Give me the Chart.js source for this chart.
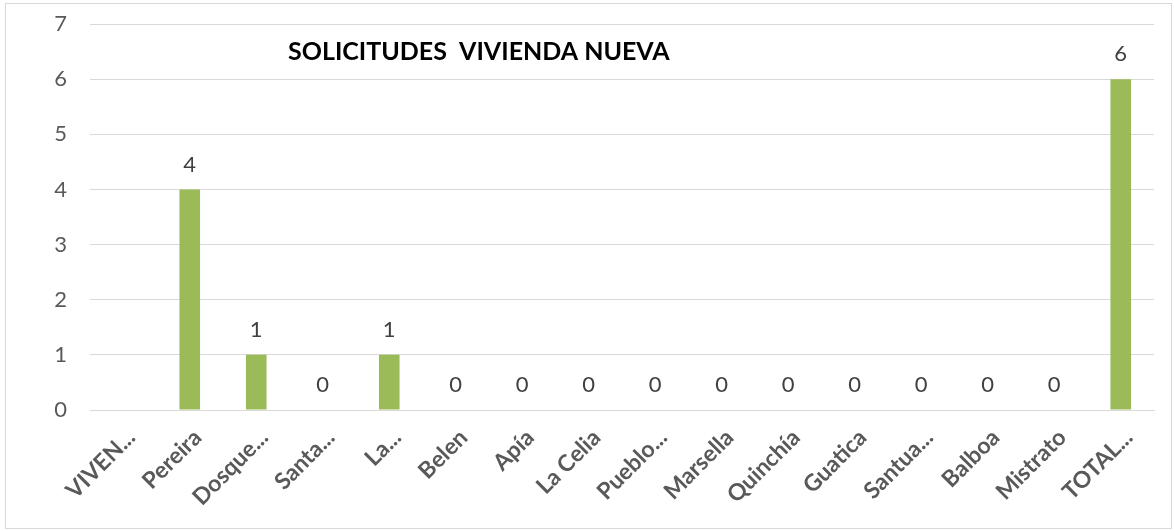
<!DOCTYPE html>
<html>
<head>
<meta charset="utf-8">
<script src="https://cdn.jsdelivr.net/npm/chart.js@4/dist/chart.umd.min.js"></script>
<style>
    body { margin: 0; background: #fff; }
    #wrap { position: absolute; left: 5px; top: 3px; width: 1165px; height: 524px; border: 1px solid #d9d9d9; }
</style>
</head>
<body>
<div id="wrap"><canvas id="chart"></canvas></div>
<script>
// Datos
const categories = ['VIVEN...', 'Pereira', 'Dosque...', 'Santa...', 'La...', 'Belen', 'Apía', 'La Celia',
    'Pueblo...', 'Marsella', 'Quinchía', 'Guatica', 'Santua...', 'Balboa', 'Mistrato', 'TOTAL...'];
const solicitudes = [null, 4, 1, 0, 1, 0, 0, 0, 0, 0, 0, 0, 0, 0, 0, 6];
const yTicks = [0, 1, 2, 3, 4, 5, 6, 7];
const chartTitle = 'SOLICITUDES  VIVIENDA NUEVA';

const FONT = 'Lato, "Open Sans", sans-serif';

// Etiquetas de valor encima de las barras
const valueLabels = {
    id: 'valueLabels',
    afterDatasetsDraw(chart) {
        const ctx = chart.ctx;
        const meta = chart.getDatasetMeta(0);
        ctx.save();
        ctx.font = '22px ' + FONT;
        ctx.fillStyle = '#404040';
        ctx.textAlign = 'center';
        ctx.textBaseline = 'middle';
        meta.data.forEach((bar, i) => {
            const v = solicitudes[i];
            if (v === null) return;
            ctx.fillText(String(v), bar.x, bar.y - 25);
        });
        ctx.restore();
    }
};

// Título dentro del área del gráfico
const innerTitle = {
    id: 'innerTitle',
    afterDraw(chart) {
        const ctx = chart.ctx;
        const area = chart.chartArea;
        ctx.save();
        ctx.font = 'bold 25px ' + FONT;
        ctx.fillStyle = '#000';
        ctx.textAlign = 'left';
        ctx.textBaseline = 'middle';
        ctx.fillText(chartTitle, area.left + 198, area.top + 28);
        ctx.restore();
    }
};

new Chart(document.getElementById('chart'), {
    type: 'bar',
    data: {
        labels: categories,
        datasets: [{
            data: solicitudes,
            backgroundColor: '#9bbb59',
            barPercentage: 0.31,
            categoryPercentage: 1
        }]
    },
    options: {
        responsive: true,
        maintainAspectRatio: false,
        animation: false,
        layout: { padding: { left: 40, right: 17, top: 20, bottom: 0 } },
        plugins: { legend: { display: false }, tooltip: { enabled: false } },
        scales: {
            x: {
                grid: { display: false },
                border: { color: '#d9d9d9', width: 1 },
                ticks: {
                    color: '#595959',
                    font: { family: FONT, size: 23, weight: 'bold' },
                    maxRotation: 45,
                    minRotation: 45,
                    autoSkip: false,
                    padding: 6,
                    labelOffset: 8
                },
                afterFit(scale) {
                    scale.height = 118;
                    scale.paddingLeft = 0;
                    scale.paddingRight = 0;
                }
            },
            y: {
                min: 0,
                max: 7,
                afterBuildTicks(scale) { scale.ticks = yTicks.map(v => ({ value: v })); },
                grid: { color: '#d9d9d9', lineWidth: 1, drawTicks: false },
                border: { display: false },
                ticks: {
                    color: '#595959',
                    font: { family: FONT, size: 22 },
                    padding: 23
                },
                afterFit(scale) {
                    scale.width = 44;
                    scale.paddingTop = 0;
                    scale.paddingBottom = 0;
                }
            }
        }
    },
    plugins: [valueLabels, innerTitle]
});
</script>
</body>
</html>
